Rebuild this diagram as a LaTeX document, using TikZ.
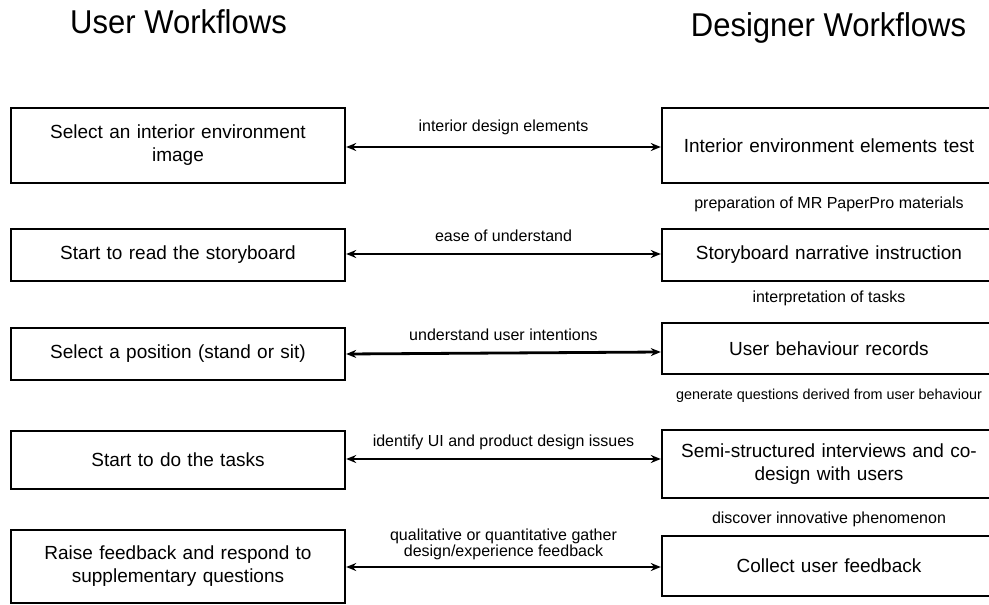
\documentclass[tikz,border=0pt]{standalone}
\usepackage{fontspec}
\setmainfont{Liberation Sans}
\newfontfamily\titlefont[FakeStretch=0.94]{Liberation Sans}
\usetikzlibrary{arrows.meta}
\begin{document}
\begin{tikzpicture}[x=1pt, y=-1pt,
  box/.style={draw, line width=2.4pt, minimum width=334pt, inner sep=0pt,
    align=center, text width=318pt, font=\fontsize{19}{23}\selectfont},
  link/.style={{Stealth[length=10pt,width=8pt]}-{Stealth[length=10pt,width=8pt]}, line width=2.8pt},
  lbl/.style={font=\fontsize{16}{14.5}\selectfont, align=center, inner sep=0pt},
  side/.style={font=\fontsize{16}{18}\selectfont, inner sep=0pt},
  title/.style={font=\titlefont\fontsize{33}{40}\selectfont, anchor=base, inner sep=0pt}]
\useasboundingbox (0,0) rectangle (989,605);

% column titles
\node[title] (tu) at (178.5,34) {User Workflows};
\node[title] (td) at (828.5,36) {Designer Workflows};

% user workflow steps
\node[box, minimum height=75pt] (u1) at (178,145.5) {Select an interior environment\\image};
\node[box, minimum height=52pt] (u2) at (178,255) {Start to read the storyboard};
\node[box, minimum height=52pt] (u3) at (178,354) {Select a position (stand or sit)};
\node[box, minimum height=58pt] (u4) at (178,460) {Start to do the tasks};
\node[box, minimum height=73pt] (u5) at (178,566.5) {Raise feedback and respond to\\supplementary questions};

% designer workflow steps (running past the right edge)
\node[box, minimum height=75pt] (d1) at (829,145.5) {Interior environment elements test};
\node[box, minimum height=52pt] (d2) at (829,255) {Storyboard narrative instruction};
\node[box, minimum height=51pt] (d3) at (829,348.5) {User behaviour records};
\node[box, minimum height=68pt] (d4) at (829,464) {Semi-structured interviews and co-\\design with users};
\node[box, minimum height=60pt] (d5) at (829,566) {Collect user feedback};

% notes between designer steps
\node[side] (n1) at (829,204) {preparation of MR PaperPro materials};
\node[side] (n2) at (829,298) {interpretation of tasks};
\node[side, font=\fontsize{14.4}{16}\selectfont] (n3) at (829,396) {generate questions derived from user behaviour};
\node[side] (n4) at (829,519) {discover innovative phenomenon};

% two-way links between the columns
\draw[link] (u1.east |- 0,147) -- node[lbl, midway, yshift=20pt] {interior design elements} (d1.west |- 0,147);
\draw[link] (u2.east |- 0,254) -- node[lbl, midway, yshift=18pt] {ease of understand} (d2.west |- 0,254);
\draw[link] (u3.east |- 0,354) -- node[lbl, midway, yshift=18pt] {understand user intentions} (d3.west |- 0,352);
\draw[link] (u4.east |- 0,459) -- node[lbl, midway, yshift=17pt] {identify UI and product design issues} (d4.west |- 0,459);
\draw[link] (u5.east |- 0,567) -- node[lbl, midway, yshift=23pt] {qualitative or quantitative gather\\design/experience feedback} (d5.west |- 0,567);
\end{tikzpicture}
\end{document}
